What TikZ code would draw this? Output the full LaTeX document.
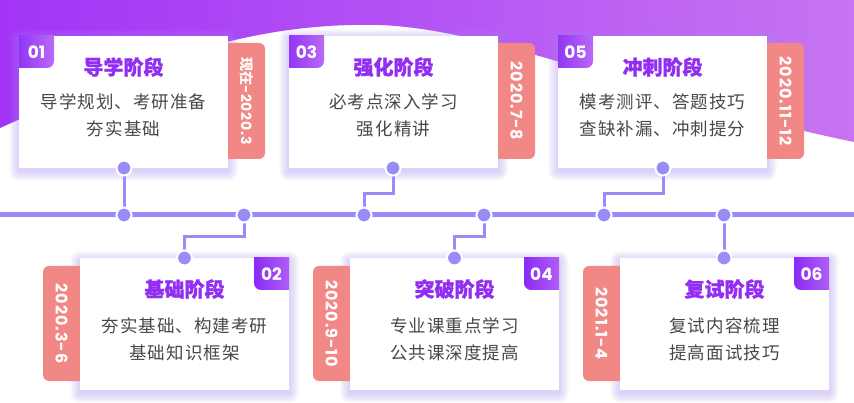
\documentclass[tikz,border=0pt]{standalone}
\usepackage{fontspec}
\setmainfont{Noto Sans CJK SC}
\newfontfamily\cjkfont{Noto Sans CJK SC}
\newfontfamily\bodyfont{Noto Sans CJK SC}[LetterSpace=6]
\newfontfamily\ttlfont{Noto Sans CJK SC}[BoldFeatures={FakeBold=1.2}]
\newfontfamily\numfont{Poppins}
\newfontfamily\datefont{Poppins}[LetterSpace=6]
\definecolor{wavel}{RGB}{163,52,246}
\definecolor{waver}{RGB}{198,116,242}
\definecolor{badgel}{RGB}{138,42,245}
\definecolor{badger}{RGB}{184,106,247}
\definecolor{tabc}{RGB}{242,136,134}
\definecolor{ttlc}{RGB}{146,46,242}
\definecolor{bodyc}{RGB}{72,72,72}
\definecolor{linec}{RGB}{152,140,250}
\definecolor{glowc}{RGB}{170,140,250}
\tikzset{
  card/.style={fill=white, minimum width=209pt, minimum height=132pt, inner sep=0pt, draw=none},
  ttl/.style={text=ttlc, inner sep=0pt, font=\ttlfont\fontsize{20}{20}\selectfont\bfseries},
  body/.style={text=bodyc, align=center, inner sep=0pt, font=\bodyfont\fontsize{17.5}{27}\selectfont},
  badgetxt/.style={text=white, inner sep=0pt, font=\numfont\fontsize{17}{17}\selectfont\bfseries},
  datetxt/.style={text=white, inner sep=0pt, rotate=-90, font=\datefont\fontsize{16}{16}\selectfont\bfseries},
  conn/.style={draw=linec, line width=3pt},
  tl/.style={draw=linec, line width=5pt},
  dot/.style={circle, fill=linec, draw=white, line width=2pt, minimum size=15pt, inner sep=0pt},
}
\newcommand\StageTop[6]{%
  \foreach \k in {1,...,10}{\fill[glowc, opacity=0.045, rounded corners=\k pt] (#2-\k,36-\k+3) rectangle (#2+209+\k,168+\k+3);}
  \fill[tabc, rounded corners=6pt] (#2+199,43) rectangle (#2+246,159);
  \node[card, anchor=north west] (c#1) at (#2,36) {};
  \begin{scope}
    \clip (#2,36) rectangle (#2+209,168);
    \shade[left color=badgel, right color=badger, rounded corners=7pt] (#2-8,28) rectangle (#2+35,68);
  \end{scope}
  \node[badgetxt] (b#1) at (#2+17.5,52.5) {#3};
  \node[ttl] (t#1) at (#2+104.5,67) {#4};
  \node[body] (d#1) at (#2+104.5,115) {#5};
  \node[datetxt] (dt#1) at (#2+227.5,101) {#6};
}
\newcommand\StageBot[6]{%
  \foreach \k in {1,...,10}{\fill[glowc, opacity=0.045, rounded corners=\k pt] (#2-\k,258-\k+3) rectangle (#2+209+\k,390+\k+3);}
  \fill[tabc, rounded corners=6pt] (#2-37,266) rectangle (#2+10,381);
  \node[card, anchor=north west] (c#1) at (#2,258) {};
  \begin{scope}
    \clip (#2,258) rectangle (#2+209,390);
    \shade[left color=badgel, right color=badger, rounded corners=7pt] (#2+174,250) rectangle (#2+217,290);
  \end{scope}
  \node[badgetxt] (b#1) at (#2+191.5,274.5) {#3};
  \node[ttl] (t#1) at (#2+104.5,289) {#4};
  \node[body] (d#1) at (#2+104.5,339) {#5};
  \node[datetxt] (dt#1) at (#2-18.5,323.5) {#6};
}
\begin{document}
\begin{tikzpicture}[x=1pt,y=-1pt]
\useasboundingbox (0,0) rectangle (854,403);
\fill[white] (0,0) rectangle (854,403);
\shade[left color=wavel, right color=waver] (0,0) -- (854,0) -- (854,142)
  .. controls (650,100) and (500,30) .. (380,25)
  .. controls (250,22) and (150,60) .. (0,128) -- cycle;
% timeline
\coordinate (tlL) at (0,215);
\coordinate (tlR) at (854,215);
\draw[tl] (tlL) -- (tlR);
% cards
\StageTop{1}{19}{01}{导学阶段}{导学规划、考研准备\\夯实基础}{{\cjkfont\fontsize{14}{14}\selectfont 现在}{\fontsize{14}{14}\selectfont-2020.3}}
\StageTop{3}{289}{03}{强化阶段}{必考点深入学习\\强化精讲}{2020.7-8}
\StageTop{5}{558}{05}{冲刺阶段}{模考测评、答题技巧\\查缺补漏、冲刺提分}{2020.11-12}
\StageBot{2}{80}{02}{基础阶段}{夯实基础、构建考研\\基础知识框架}{2020.3-6}
\StageBot{4}{350}{04}{突破阶段}{专业课重点学习\\公共课深度提高}{2020.9-10}
\StageBot{6}{620}{06}{复试阶段}{复试内容梳理\\提高面试技巧}{2021.1-4}
% dots
\path (124,168) coordinate (pc1) (393,168) coordinate (pc3) (663,168) coordinate (pc5)
      (184.5,258) coordinate (pc2) (454.5,258) coordinate (pc4) (724,258) coordinate (pc6);
\foreach \i/\x in {1/124,2/244,3/364,4/484,5/604,6/724}{\coordinate (qc\i) at (\x,215);}
\draw[conn] (pc1) -- (qc1);
\draw[conn] (pc3) -- ++(0,26) -| (qc3);
\draw[conn] (pc5) -- ++(0,26) -| (qc5);
\draw[conn] (qc2) -- ++(0,22) -| (pc2);
\draw[conn] (qc4) -- ++(0,22) -| (pc4);
\draw[conn] (qc6) -- (pc6);
\foreach \n in {1,...,6}{
  \node[dot] (p\n) at (pc\n) {};
  \node[dot] (q\n) at (qc\n) {};
}
\end{tikzpicture}
\end{document}
